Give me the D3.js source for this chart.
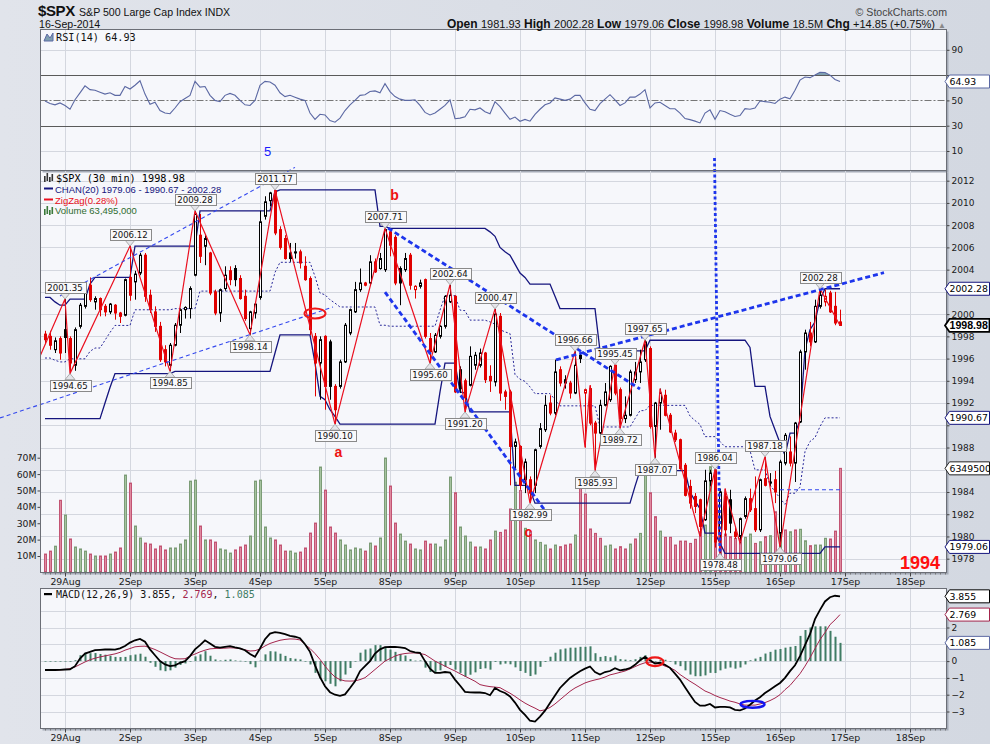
<!DOCTYPE html>
<html><head><meta charset="utf-8">
<script src="https://cdn.jsdelivr.net/npm/d3@7/dist/d3.min.js"></script>
<style>html,body{margin:0;padding:0;background:#dce0e8;}svg{display:block;}</style>
</head><body>
<svg id="chart" width="990" height="744"></svg>
<script>
// ---------------- DATA ----------------
const dayLabels=["29Aug","2Sep","3Sep","4Sep","5Sep","8Sep","9Sep","10Sep","11Sep","12Sep","15Sep","16Sep","17Sep","18Sep"];
const dayIdx=[4,17,30,43,56,69,82,95,108,121,134,147,160,173];
const priceTicks=[1978,1980,1982,1984,1986,1988,1990,1992,1994,1996,1998,2000,2002,2004,2006,2008,2010,2012];
const rsiTicks=[10,30,50,70,90];
const macdTicks=[-3,-2,-1,0,1,2,3];
const volTicks=[10,20,30,40,50,60,70];
const headerStats=[["Open","1981.93"],["High","2002.28"],["Low","1979.06"],["Close","1998.98"],["Volume","18.5M"],["Chg","+14.85 (+0.75%)"]];

const open=[1998.2,1998.0,1996.8,1997.8,1998.6,1997.8,1995.4,1998.9,2000.7,2002.6,
2001.1,2001.4,2000.7,2000.2,2000.8,2000.1,1999.9,2003.3,2002.9,2003.7,
2005.3,2001.7,2000.2,1998.9,1996.8,1995.4,1997.2,1999.0,2000.4,2000.5,
2003.5,2007.1,2006.1,2005.5,2002.0,2000.1,2002.3,2003.9,2004.1,2003.2,
2001.6,1998.7,2000.1,2001.5,2008.8,2010.2,2011.1,2007.6,2006.8,2005.5,
2005.5,2005.6,2004.3,2003.2,1998.0,1995.6,1998.0,1997.5,1993.5,1993.5,
1995.7,1998.3,2000.2,2002.2,2002.8,2002.8,2004.7,2004.1,2004.0,2007.4,
2006.9,2004.1,2004.0,2005.3,2002.2,2002.5,2003.1,1997.8,1996.6,1998.0,
1998.9,2001.1,2001.6,1995.0,1994.0,1993.6,1995.4,1995.4,1996.5,1994.4,
1993.9,1999.8,1993.0,1993.0,1988.1,1988.1,1985.1,1985.1,1984.6,1988.1,
1989.6,1992.0,1991.1,1995.0,1994.1,1993.8,1992.9,1996.3,1992.9,1993.3,
1990.2,1989.3,1991.8,1992.3,1995.4,1993.2,1990.6,1990.9,1994.1,1994.8,
1995.9,1996.9,1989.9,1992.0,1992.7,1990.9,1989.3,1988.7,1986.4,1984.5,
1983.6,1983.3,1981.5,1985.0,1985.9,1980.3,1983.6,1983.3,1980.4,1980.0,
1981.8,1983.4,1982.5,1980.6,1985.2,1984.9,1985.1,1980.3,1986.6,1987.6,
1986.6,1990.3,1996.6,1998.3,1997.5,2000.7,2001.1,2001.9,2000.7,1999.3];
const high=[1998.5,1998.5,1997.9,1998.0,2001.35,1998.0,1998.8,2001.0,2002.7,2003.3,
2001.6,2001.5,2000.9,2001.0,2000.9,2000.2,2003.2,2006.12,2003.9,2005.5,
2005.5,2002.2,2000.7,1999.3,1997.2,1997.4,1999.2,2000.5,2000.7,2002.5,
2009.28,2009.0,2007.1,2005.6,2002.2,2002.3,2004.3,2004.3,2004.4,2003.5,
2002.2,2000.3,2001.1,2009.3,2010.6,2011.0,2011.17,2007.9,2007.1,2006.4,
2006.4,2005.8,2005.2,2003.4,1998.3,1998.0,1998.1,1997.7,1993.7,1995.9,
1999.2,2000.5,2002.9,2004.1,2002.9,2005.3,2005.0,2005.5,2007.71,2007.6,
2007.1,2004.3,2005.5,2005.5,2002.6,2003.1,2003.2,1998.3,1998.3,1999.0,
2001.7,2002.64,2001.7,1995.3,1994.2,1997.1,1996.6,1996.9,1996.6,1995.4,
2000.47,2000.1,1993.2,1993.2,1988.8,1988.2,1987.0,1985.4,1987.9,1990.2,
1992.7,1992.7,1995.9,1995.3,1994.5,1994.0,1996.66,1996.5,1993.3,1993.6,
1990.4,1992.3,1993.8,1995.4,1995.45,1993.4,1992.6,1995.0,1995.7,1996.8,
1997.65,1997.1,1992.1,1993.3,1993.2,1991.1,1989.6,1988.8,1986.6,1985.1,
1983.9,1983.4,1986.0,1986.0,1986.04,1984.3,1984.3,1984.2,1980.9,1981.7,
1983.6,1984.3,1985.4,1985.2,1987.18,1985.7,1985.9,1986.9,1989.3,1989.0,
1990.3,1996.8,1998.6,1999.3,2001.3,2002.28,2002.2,2002.1,2002.0,2000.4];
const low=[1997.3,1996.8,1996.5,1995.9,1996.5,1994.65,1994.9,1998.7,2000.5,2001.1,
2000.4,1999.8,1999.8,2000.0,1999.5,1999.2,1999.8,2001.2,2001.3,2003.5,
2001.1,2000.1,1998.4,1995.7,1995.3,1994.85,1997.1,1998.3,1999.6,1999.6,
2003.4,2004.6,2004.4,2001.7,1999.9,1999.3,2002.1,2002.6,2002.5,2001.3,
1999.4,1998.14,1999.6,2001.3,2008.5,2009.7,2007.1,2005.8,2004.9,2004.7,
2005.0,2004.1,2003.0,1998.1,1992.6,1992.3,1991.4,1992.3,1990.10,1993.3,
1995.6,1998.1,2000.1,2002.0,2002.5,2002.6,2003.7,2004.0,2003.8,2005.2,
2002.6,2000.8,2003.8,2002.2,2001.4,2002.3,1997.8,1995.60,1996.5,1997.8,
1998.7,2001.0,1992.9,1992.9,1991.20,1993.5,1995.0,1995.2,1993.8,1993.0,
1993.5,1992.2,1991.4,1984.6,1986.0,1984.2,1983.9,1982.99,1983.9,1987.9,
1989.4,1990.9,1990.9,1993.5,1993.3,1992.4,1992.8,1995.6,1988.0,1990.0,
1985.93,1989.1,1991.7,1992.1,1992.7,1989.72,1990.2,1990.8,1993.8,1993.8,
1995.7,1989.7,1987.07,1989.6,1990.8,1989.3,1988.5,1986.0,1983.6,1982.5,
1982.1,1980.0,1981.4,1984.5,1979.0,1978.48,1980.0,1980.3,1979.8,1979.4,
1981.6,1982.2,1980.4,1980.4,1984.5,1984.5,1983.0,1979.06,1986.4,1986.3,
1984.9,1990.2,1995.0,1997.1,1997.4,2000.5,2000.7,2000.1,1999.0,1998.98];
const close=[1997.7,1997.2,1997.6,1996.5,1997.9,1995.6,1998.6,2000.8,2002.6,2001.3,
2001.4,2000.4,2000.2,2000.9,2000.1,1999.8,2003.1,2001.7,2003.6,2005.3,
2001.6,2000.4,1998.9,1995.9,1995.7,1997.2,1999.0,2000.4,2000.6,2002.3,
2009.0,2005.2,2006.8,2001.9,2000.1,2002.2,2003.5,2003.1,2003.1,2001.4,
1999.6,2000.2,2000.9,2008.3,2010.1,2010.9,2007.3,2006.0,2005.0,2005.0,
2005.6,2004.6,2003.1,1998.6,1995.6,1997.7,1993.5,1993.5,1991.4,1995.7,
1999.0,2000.4,2002.2,2002.8,2002.6,2004.7,2003.8,2005.0,2007.6,2006.2,
2002.8,2002.8,2005.0,2002.6,2002.5,2002.8,1998.0,1996.6,1998.1,1998.9,
2001.6,2001.7,1993.0,1993.3,1992.5,1996.2,1996.3,1996.5,1994.1,1994.0,
2000.0,1992.9,1992.6,1988.1,1988.5,1984.6,1986.7,1983.9,1987.8,1989.7,
1991.8,1991.1,1994.8,1993.8,1993.8,1992.9,1995.4,1996.0,1993.2,1990.2,
1989.3,1991.8,1993.0,1995.3,1992.9,1990.6,1990.9,1994.8,1994.8,1995.7,
1997.5,1989.9,1992.0,1992.9,1990.9,1989.4,1988.7,1986.1,1983.7,1983.0,
1982.7,1980.9,1985.0,1985.7,1979.5,1984.0,1980.6,1981.2,1980.0,1981.6,
1983.4,1982.4,1980.6,1985.1,1984.6,1984.8,1984.0,1986.7,1989.1,1986.6,
1990.2,1996.6,1998.3,1997.5,2000.7,2001.7,2001.6,2000.2,1999.2,1998.98];
// volume in millions, and bar colour (1 = green, 0 = red)
const volume=[11.2,13,16,44,35,20.4,15.5,14.3,13,11.2,
10,10,10,11.2,12.4,14.9,59.4,54.5,28.3,21,
17.9,17.3,14.3,16.1,13.7,14.9,14.9,17.3,19.8,55.7,
56.3,28.3,19.8,19.8,18.5,14.3,13.7,11.8,13.7,15.5,
16.7,22.2,55.7,56.3,27.7,21,19.8,16.7,13,13,
11.8,12.4,14.9,24,30.1,64.3,50.2,27.7,24,19.8,
16.7,13.7,14.9,14.3,13,17.9,16.1,21,69.8,52.7,
30.1,23.4,19.1,17.3,14.3,13.7,19.1,17.3,17.3,15.5,
19.8,58.2,48.6,27.7,22.2,18.5,15.5,15.5,14.3,19.8,
25.2,24.4,25.9,38.7,55,50,26.9,24.8,19.8,18.3,
16.7,14.3,16.7,15.7,16.7,17.3,22.8,52.3,47.8,26.5,
23.8,20.8,16.1,16.7,14.3,15.7,14.3,17.3,20.4,23.8,
60.4,48.6,34,25.2,21.4,21.4,16.7,19.1,19.1,17.7,
20.2,24.8,28.9,64.5,62.8,46.2,23.4,21.8,20.8,20.8,
21.4,23.4,17.7,18.7,21.8,22.4,37,43.1,25.9,24.8,
25.9,26.3,19.3,16.3,16.7,16.7,20.8,20.4,25.2,63.495];
const volUp=[0,0,1,0,1,0,1,1,1,0, 1,0,0,1,0,0,1,0,1,1, 0,0,0,0,0,1,1,1,1,1, 1,0,1,0,0,1,1,1,0,0,
0,1,1,1,1,1,0,0,0,1, 1,0,0,0,0,1,0,0,0,1, 1,1,1,1,0,1,0,1,1,0, 0,1,1,0,1,1,0,0,1,1,
1,1,0,1,1,1,0,1,0,0, 1,0,0,0,1,0,1,0,1,1, 1,0,1,0,0,0,1,0,0,0, 0,0,1,1,0,0,0,1,0,1,
1,0,0,1,0,0,0,0,0,0, 0,0,1,1,0,0,0,0,0,0, 1,1,0,1,0,1,0,1,0,1, 0,1,1,0,1,1,1,0,0,0];
const chanUpper=[2001.5,2001.5,2001.1,2000.8,2000.8,2001.35,2001.35,2001.35,2001.35,2002.7,
2003.3,2003.3,2003.3,2003.3,2003.3,2003.3,2003.3,2003.3,2006.12,2006.12,
2006.12,2006.12,2006.12,2006.12,2006.12,2006.12,2006.12,2006.12,2006.12,2006.12,
2006.12,2009.28,2009.28,2009.28,2009.28,2009.28,2009.28,2009.28,2009.28,2009.28,
2009.28,2009.28,2009.28,2009.28,2009.28,2009.28,2011.0,2011.17,2011.17,2011.17,
2011.17,2011.17,2011.17,2011.17,2011.17,2011.17,2011.17,2011.17,2011.17,2011.17,
2011.17,2011.17,2011.17,2011.17,2011.17,2011.17,2011.17,2007.9,2007.9,2007.71,
2007.71,2007.71,2007.71,2007.71,2007.71,2007.71,2007.71,2007.71,2007.71,2007.71,
2007.71,2007.71,2007.71,2007.71,2007.71,2007.71,2007.71,2007.71,2007.71,2007.4,
2007.0,2006.0,2005.6,2005.3,2004.5,2003.7,2003.3,2002.7,2002.7,2002.7,
2002.7,2002.7,2001.6,2000.5,2000.5,2000.5,2000.5,2000.5,2000.5,2000.5,
2000.5,1996.7,1996.7,1996.7,1996.7,1996.7,1996.7,1996.7,1996.7,1996.7,
1996.7,1997.65,1997.65,1997.65,1997.65,1997.65,1997.65,1997.65,1997.65,1997.65,
1997.65,1997.65,1997.65,1997.65,1997.65,1997.65,1997.65,1997.65,1997.65,1997.65,
1997.65,1997.0,1993.5,1993.5,1993.5,1990.8,1989.6,1988.4,1987.3,1989.3,
1989.3,1990.4,1996.8,1998.6,1999.3,2001.3,2002.28,2002.28,2002.28,2002.28];
const chanLower=[1990.6,1990.6,1990.6,1990.6,1990.6,1990.6,1990.6,1990.6,1990.6,1990.6,
1990.6,1990.6,1992.0,1993.4,1994.65,1994.65,1994.65,1994.65,1994.65,1994.65,
1994.65,1994.65,1994.65,1994.65,1994.65,1994.65,1994.85,1994.85,1994.85,1994.85,
1994.85,1994.85,1994.85,1994.85,1994.85,1994.85,1994.85,1994.85,1994.85,1994.85,
1994.85,1994.85,1994.85,1994.85,1994.85,1994.85,1996.5,1998.14,1998.14,1998.14,
1998.14,1998.14,1998.14,1998.14,1995.6,1992.6,1992.3,1991.4,1990.8,1990.1,
1990.1,1990.1,1990.1,1990.1,1990.1,1990.1,1990.1,1990.1,1990.1,1990.1,
1990.1,1990.1,1990.1,1990.1,1990.1,1990.1,1990.1,1990.1,1990.1,1993.0,
1995.6,1995.6,1995.6,1993.0,1992.9,1991.2,1991.2,1991.2,1991.2,1991.2,
1991.2,1991.2,1991.2,1991.2,1984.6,1984.6,1984.6,1984.2,1982.99,1982.99,
1982.99,1982.99,1982.99,1982.99,1982.99,1982.99,1982.99,1982.99,1982.99,1982.99,
1982.99,1982.99,1982.99,1982.99,1982.99,1982.99,1982.99,1982.99,1984.5,1985.93,
1985.93,1985.93,1985.93,1985.93,1985.93,1985.93,1985.93,1985.93,1985.93,1984.0,
1983.2,1982.5,1980.3,1980.3,1980.3,1979.4,1978.48,1978.48,1978.48,1978.48,
1978.48,1978.48,1978.48,1978.48,1978.48,1978.48,1978.48,1978.48,1978.48,1978.48,
1978.48,1978.48,1978.48,1978.48,1978.48,1978.48,1979.06,1979.06,1979.06,1979.06];
const chanMid=[1996.05,1996.05,1995.85,1995.7,1995.7,1995.98,1995.98,1995.98,1995.98,1996.65,
1996.95,1996.95,1997.65,1998.35,1998.98,1998.98,1998.98,1998.98,2000.39,2000.39,
2000.39,2000.39,2000.39,2000.39,2000.39,2000.39,2000.49,2000.49,2000.49,2000.49,
2000.49,2002.07,2002.07,2002.07,2002.07,2002.07,2002.07,2002.07,2002.07,2002.07,
2002.07,2002.07,2002.07,2002.07,2002.07,2002.07,2003.75,2004.66,2004.66,2004.66,
2004.66,2004.66,2004.66,2004.66,2003.39,2001.89,2001.74,2001.29,2000.99,2000.64,
2000.64,2000.64,2000.64,2000.64,2000.64,2000.64,2000.64,1999.0,1999.0,1998.91,
1998.91,1998.91,1998.91,1998.91,1998.91,1998.91,1998.91,1998.91,1998.91,2000.36,
2001.66,2001.66,2001.66,2000.36,2000.31,1999.46,1999.46,1999.46,1999.46,1999.3,
1999.1,1998.6,1998.4,1998.25,1994.55,1994.15,1993.95,1993.45,1992.85,1992.85,
1992.85,1992.85,1992.3,1991.75,1991.75,1991.75,1991.75,1991.75,1991.75,1991.75,
1991.75,1989.85,1989.85,1989.85,1989.85,1989.85,1989.85,1989.85,1990.6,1991.32,
1991.32,1991.79,1991.79,1991.79,1991.79,1991.79,1991.79,1991.79,1991.79,1990.83,
1990.43,1990.08,1988.98,1988.98,1988.98,1988.53,1988.07,1988.07,1988.07,1988.07,
1988.07,1987.74,1985.99,1985.99,1985.99,1984.64,1984.04,1983.44,1982.89,1983.89,
1983.89,1984.44,1987.64,1988.54,1988.89,1989.89,1990.67,1990.67,1990.67,1990.67];
const zzIdx=[-1,4,5,17,25,30,41,46,58,68,77,81,84,90,97,106,108,109,110,114,115,120,122,123,131,134,135,136,139,144,147,155,159];
const zzVal=[1996.2,2001.35,1994.65,2006.12,1994.85,2009.28,1998.14,2011.17,1990.10,2007.71,1995.60,2002.64,1991.20,2000.47,1982.99,1996.66,1988.0,1993.6,1985.93,1995.45,1989.72,1997.65,1987.07,1993.3,1980.0,1986.04,1978.48,1984.3,1979.4,1987.18,1979.06,2002.28,1998.98];
const zzShow=[0,1,1,1,1,1,1,1,1,1,1,1,1,1,1,1,0,0,1,1,1,1,1,0,0,1,1,0,0,1,1,1,0];
const rsi=[49.5,47.5,46.5,48,46,43,50.5,56,61.5,58.5,
58,56.5,55,56,54,54,61,59,62,65.5,
55,47,48.5,42,40,39.5,44,49,51.5,54,
65,60.5,61,54,50,49,54,55.5,54,50,
46.5,46,50,62,65,64.5,62,56,53,54,
52.5,51,50,40,35,39,38.5,34,32.8,36,
42,46.5,50,54,54.5,57,57.5,56,63.2,57,
53,51,50,50,50.5,46,40.5,38.5,40,43,
46,50.5,35.5,36,37,43,42.5,44,41,39.5,
49,45,40,35,36.8,33.5,35,33.6,39,43,
46.5,48,52,51,50,51,54,54,48,43,
42,47.4,51,54.5,50.5,46,48,52.6,52.6,55,
58.5,44,48,48.5,46,43.4,43.4,40,35.6,34.8,
33.6,32.2,40,42.5,35,42,41,39,37.3,38,
43.5,43,44,49.5,49,48.5,47.6,51,52.6,51.3,
58,66,68.5,68,70,72.3,72,70,66.5,64.93];
const macd=[-0.53,-0.53,-0.53,-0.52,-0.5,-0.49,-0.3,0.15,0.45,0.55,
0.65,0.67,0.69,0.69,0.68,0.76,0.9,1.1,1.24,1.32,
1.15,0.7,0.35,0.0,-0.2,-0.3,-0.25,-0.1,0.0,0.3,
0.7,0.95,1.24,1.05,0.85,0.8,0.85,0.89,0.82,0.76,
0.65,0.42,0.25,0.75,1.3,1.64,1.72,1.68,1.6,1.5,
1.45,1.36,1.0,0.55,-0.25,-0.95,-1.5,-1.85,-2.0,-2.07,
-1.98,-1.6,-1.2,-0.6,-0.3,0.0,0.45,0.7,0.83,0.84,
0.85,0.82,0.78,0.6,0.52,0.49,0.0,-0.45,-0.7,-0.7,
-0.65,-0.68,-1.1,-1.45,-1.83,-1.86,-1.87,-1.87,-1.9,-2.03,
-1.6,-1.78,-1.9,-2.1,-2.47,-2.9,-3.2,-3.55,-3.6,-3.3,
-2.95,-2.5,-2.05,-1.6,-1.3,-1.0,-0.8,-0.6,-0.45,-0.32,
-0.65,-0.8,-0.65,-0.59,-0.42,-0.55,-0.5,-0.42,-0.22,0.05,
0.25,0.05,-0.14,-0.1,-0.22,-0.4,-0.75,-1.1,-1.55,-2.0,
-2.43,-2.65,-2.65,-2.55,-2.76,-2.72,-2.72,-2.76,-2.9,-2.93,
-2.82,-2.6,-2.35,-2.15,-1.9,-1.7,-1.5,-1.3,-1.0,-0.6,
-0.25,0.3,0.95,1.6,2.5,3.05,3.55,3.8,3.89,3.855];
const signal=[-0.53,-0.53,-0.53,-0.52,-0.5,-0.45,-0.35,-0.2,-0.05,0.08,
0.17,0.25,0.31,0.37,0.43,0.52,0.65,0.75,0.85,0.88,
0.89,0.8,0.69,0.55,0.4,0.25,0.14,0.13,0.14,0.3,
0.42,0.55,0.65,0.73,0.75,0.76,0.77,0.79,0.78,0.74,
0.67,0.6,0.62,0.72,0.9,1.05,1.15,1.24,1.29,1.32,
1.31,1.26,1.0,0.75,0.45,0.1,-0.3,-0.65,-0.95,-1.1,
-1.18,-1.19,-1.18,-1.1,-0.99,-0.75,-0.5,-0.25,0.0,0.15,
0.3,0.4,0.45,0.48,0.49,0.45,0.39,0.2,0.0,-0.15,
-0.3,-0.45,-0.59,-0.75,-0.9,-1.05,-1.2,-1.4,-1.47,-1.52,
-1.55,-1.58,-1.75,-1.91,-2.1,-2.31,-2.5,-2.66,-2.8,-2.96,
-2.9,-2.76,-2.55,-2.3,-2.05,-1.8,-1.6,-1.45,-1.3,-1.2,
-1.12,-1.05,-0.95,-0.82,-0.75,-0.67,-0.59,-0.47,-0.33,-0.2,
-0.1,-0.06,-0.1,-0.16,-0.3,-0.39,-0.55,-0.8,-1.0,-1.2,
-1.38,-1.58,-1.78,-1.9,-2.05,-2.17,-2.27,-2.38,-2.45,-2.55,
-2.62,-2.62,-2.62,-2.55,-2.47,-2.35,-2.2,-2.0,-1.7,-1.45,
-1.1,-0.75,-0.3,0.2,0.75,1.28,1.7,2.17,2.45,2.769];
const hist=[0,0,0,0,0,-0.04,0.05,0.35,0.5,0.47,
0.48,0.42,0.38,0.32,0.25,0.24,0.25,0.35,0.39,0.44,
0.26,-0.1,-0.34,-0.55,-0.6,-0.55,-0.39,-0.23,-0.14,0.0,
0.28,0.4,0.59,0.32,0.1,0.04,0.08,0.1,0.04,0.02,
-0.02,-0.18,-0.37,0.03,0.4,0.59,0.57,0.44,0.31,0.18,
0.14,0.1,0.0,-0.2,-0.7,-1.05,-1.2,-1.35,-1.5,-1.2,
-0.8,-0.41,-0.02,0.5,0.69,0.75,0.95,0.95,0.83,0.69,
0.55,0.42,0.33,0.12,0.03,0.04,-0.39,-0.65,-0.7,-0.55,
-0.35,-0.23,-0.51,-0.7,-0.93,-0.81,-0.67,-0.47,-0.43,-0.51,
-0.05,-0.2,-0.15,-0.19,-0.37,-0.59,-0.7,-0.89,-0.8,-0.34,
-0.05,0.26,0.5,0.7,0.75,0.8,0.8,0.85,0.85,0.88,
0.47,0.25,0.3,0.23,0.33,0.12,0.09,0.05,0.11,0.25,
0.35,0.11,-0.04,0.06,0.08,-0.01,-0.2,-0.3,-0.55,-0.8,
-0.9,-0.9,-0.85,-0.7,-0.71,-0.55,-0.45,-0.38,-0.45,-0.38,
-0.2,0.05,0.15,0.25,0.45,0.55,0.68,0.72,0.8,0.85,
0.9,1.5,1.85,2.0,2.07,2.07,2.07,1.8,1.45,1.085];
// hand-drawn annotations, in (bar index, price) units
const trendThin=[[[-9,1990.66],[57.6,2000.64]],[[3,2001.63],[50,2013.2]],[[147,1984.2],[159.6,1984.2]]];
const trendThick=[[[68.6,2007.74],[119,1993.26]],[[68,2001.98],[100.8,1981.84]],[[102.2,1995.88],[167.8,2003.73]]];
const vertLine=[[133.9,2014.04],[135,1978.33]];
const waveLabels=[{t:"a",i:58.7,p:1987.63},{t:"b",i:69.9,p:2010.7},{t:"c",i:96.7,p:1980.4}];

// ---------------- LAYOUT ----------------
const svg=d3.select('#chart');
const L=40.5,R=946.5,RT=29.5,RB=170.5,MT=170.5,MB=572.5,DT=588.5,DB=728.5;
const FONT='DejaVu Sans, Verdana, sans-serif', NAR='Liberation Sans, Arial, sans-serif', MONO='DejaVu Sans Mono, monospace';
const x=d3.scaleLinear().domain([0,159]).range([45,840]);
const yP=d3.scaleLinear().domain([1978,2012]).range([558.7,180.7]);
const yV=d3.scaleLinear().domain([0,70]).range([572.4,457.7]);
const yR=d3.scaleLinear().domain([10,90]).range([151,49.8]);
const yM=d3.scaleLinear().domain([-3,2]).range([711.5,627.5]);
const px=i=>Math.round(x(i))+0.5;

const bgGrad=svg.append('defs').append('linearGradient').attr('id','bg').attr('x1',0).attr('x2',1).attr('y1',0).attr('y2',0);
bgGrad.append('stop').attr('offset',0).attr('stop-color','#e1e4eb');
bgGrad.append('stop').attr('offset',1).attr('stop-color','#d3d8e1');
svg.append('rect').attr('width',990).attr('height',744).attr('fill','url(#bg)');
const defs=svg.append('defs');
function clip(id,t,b){defs.append('clipPath').attr('id',id).append('rect').attr('x',L).attr('y',t).attr('width',R-L).attr('height',b-t);}
clip('cR',RT,RB);clip('cM',MT,MB);clip('cD',DT,DB);
function panelBg(t,b){
  svg.append('rect').attr('x',L+2).attr('y',t+2).attr('width',R-L).attr('height',b-t).attr('fill','#a4aab6');
  svg.append('rect').attr('x',L).attr('y',t).attr('width',R-L).attr('height',b-t).attr('fill','#f6f7fb');
}
panelBg(DT,DB);panelBg(MT,MB);panelBg(RT,RB);

function vgrid(t,b){svg.append('g').selectAll('line').data(dayIdx).join('line')
  .attr('x1',d=>px(d)).attr('x2',d=>px(d)).attr('y1',t).attr('y2',b).attr('stroke','#d4d7df');}
function hgrid(vals,sc,col){svg.append('g').selectAll('line').data(vals).join('line')
  .attr('x1',L).attr('x2',R).attr('y1',d=>Math.round(sc(d))+0.5).attr('y2',d=>Math.round(sc(d))+0.5).attr('stroke',col||'#d4d7df');}
vgrid(RT,RB);vgrid(MT,MB);vgrid(DT,DB);
hgrid([10,90],yR);hgrid(priceTicks,yP);hgrid(macdTicks,yM);

// value tags positions (label of last value on right edge)
const tagsR=[yR(rsi[159])];
const tagsM=[yP(chanUpper[159]),yP(close[159]),yP(chanMid[159]),yV(volume[159]),yP(chanLower[159])];
const tagsD=[yM(macd[159]),yM(signal[159]),yM(hist[159])];
function styleAxis(g,size,hideNear){g.select('.domain').remove();
  g.selectAll('text').attr('font-family',FONT).attr('font-size',size||9).attr('fill','#1a1a1a');
  g.selectAll('line').attr('stroke','#444');
  if(hideNear) g.selectAll('.tick').each(function(){
    const m=/translate\(([-\d.]+),([-\d.]+)\)/.exec(d3.select(this).attr('transform'));
    const ty=+m[2]; if(hideNear.some(t=>Math.abs(t-ty)<8.5)) d3.select(this).select('text').remove();});
}

// ---------------- RSI PANEL ----------------
const gR=svg.append('g').attr('clip-path','url(#cR)');
gR.append('line').attr('x1',L).attr('x2',R).attr('y1',Math.round(yR(70))+0.5).attr('y2',Math.round(yR(70))+0.5).attr('stroke','#5a5a5a');
gR.append('line').attr('x1',L).attr('x2',R).attr('y1',Math.round(yR(30))+0.5).attr('y2',Math.round(yR(30))+0.5).attr('stroke','#5a5a5a');
gR.append('line').attr('x1',L).attr('x2',R).attr('y1',Math.round(yR(50))+0.5).attr('y2',Math.round(yR(50))+0.5).attr('stroke','#777').attr('stroke-dasharray','7,2,2,2');
gR.append('path').datum(rsi).attr('d',d3.area().x((d,i)=>x(i)).y0(yR(70)).y1(d=>yR(Math.max(d,70)))).attr('fill','#7f9fb0');
gR.append('path').datum(rsi).attr('d',d3.line().x((d,i)=>x(i)).y(d=>yR(d))).attr('fill','none').attr('stroke','#5b68a3').attr('stroke-width',1.1);
const axR=svg.append('g').attr('transform',`translate(${R},0)`).call(d3.axisRight(yR).tickValues(rsiTicks).tickSize(3).tickPadding(2));
styleAxis(axR,9,tagsR);
svg.append('text').attr('x',x(44.5)).attr('y',yR(9.7)).attr('dy','0.35em').attr('text-anchor','middle')
  .attr('font-family',NAR).attr('font-size',13).attr('fill','#1a1aff').text('5');

// ---------------- MAIN PANEL ----------------
const gM=svg.append('g').attr('clip-path','url(#cM)');
gM.append('g').selectAll('rect').data(volume).join('rect')
  .attr('x',(d,i)=>px(i)-1).attr('width',2).attr('y',d=>yV(d)).attr('height',d=>yV(0)-yV(d))
  .attr('fill',(d,i)=>volUp[i]?'#a6c3a0':'#df8aa0').attr('stroke',(d,i)=>volUp[i]?'#7c9c76':'#c25473').attr('stroke-width',1);
const lineP=d3.line().x((d,i)=>x(i)).y(d=>yP(d));
gM.append('path').datum(chanUpper).attr('d',lineP).attr('fill','none').attr('stroke','#15157e').attr('stroke-width',1.3);
gM.append('path').datum(chanLower).attr('d',lineP).attr('fill','none').attr('stroke','#15157e').attr('stroke-width',1.3);
gM.append('path').datum(chanMid).attr('d',lineP).attr('fill','none').attr('stroke','#2a2a9a').attr('stroke-width',1).attr('stroke-dasharray','2,2');
const gC=gM.append('g');
open.forEach((o,i)=>{
  const c=close[i], pc=i>0?close[i-1]:o;
  const col=c>=pc?'#000':'#e00000';
  const hollow=c>o;
  const cx=px(i);
  gC.append('line').attr('x1',cx).attr('x2',cx).attr('y1',yP(high[i])).attr('y2',yP(low[i])).attr('stroke',col);
  const y1=yP(Math.max(o,c)), y2=yP(Math.min(o,c));
  gC.append('rect').attr('x',cx-1).attr('y',y1).attr('width',2).attr('height',Math.max(0.5,y2-y1))
    .attr('fill',hollow?'#fff':col).attr('stroke',col).attr('stroke-width',1);
});
const zz=zzIdx.map((d,k)=>[d,zzVal[k]]);
gM.append('path').datum(zz).attr('d',d3.line().x(d=>x(d[0])).y(d=>yP(d[1]))).attr('fill','none').attr('stroke','#ea1020').attr('stroke-width',1.2);
const lineA=d3.line().x(d=>x(d[0])).y(d=>yP(d[1]));
const gA=svg.append('g');
trendThin.forEach(s=>gA.append('path').datum(s).attr('d',lineA).attr('stroke','#3348ee').attr('stroke-width',1.1).attr('stroke-dasharray','4,3').attr('fill','none'));
trendThick.forEach(s=>gA.append('path').datum(s).attr('d',lineA).attr('stroke','#1d35ec').attr('stroke-width',2.8).attr('stroke-dasharray','5,3').attr('fill','none'));
gA.append('path').datum(vertLine).attr('d',lineA).attr('stroke','#1d35ec').attr('stroke-width',2.8).attr('stroke-dasharray','3,2.5').attr('fill','none');
gA.append('ellipse').attr('cx',x(54)).attr('cy',yP(2000.06)).attr('rx',10.5).attr('ry',5).attr('fill','none').attr('stroke','#ee1818').attr('stroke-width',2);
waveLabels.forEach(w=>gA.append('text').attr('x',x(w.i)).attr('y',yP(w.p)).attr('dy','0.35em').attr('text-anchor','middle')
  .attr('font-family',NAR).attr('font-weight','bold').attr('font-size',14).attr('fill','#ee1111').text(w.t));
gA.append('text').attr('x',940).attr('y',569).attr('text-anchor','end').attr('font-family',NAR).attr('font-weight','bold')
  .attr('font-size',18).attr('fill','#ff1010').text('1994');
const gL=svg.append('g');
const f2=d3.format('.2f');
zz.forEach((d,k)=>{
  if(!zzShow[k])return;
  const X=x(d[0]), Y=yP(d[1]);
  const isHigh=k===0||d[1]>zz[k-1][1];
  const t=gL.append('text').attr('font-family',FONT).attr('font-size',8.6).attr('fill','#111').attr('text-anchor','middle').text(f2(d[1]));
  const w=t.node().getComputedTextLength()+5, h=11;
  const top=isHigh?Y-6-h:Y+6;
  const tri=isHigh?`M${X-5},${top+h} L${X+5},${top+h} L${X},${Y} Z`:`M${X-5},${top} L${X+5},${top} L${X},${Y} Z`;
  gL.insert('path','text').attr('d',tri).attr('fill','#e4e5ea').attr('stroke','#9a9a9a').attr('stroke-width',0.8);
  gL.insert('rect','text').attr('x',Math.round(X-w/2)+0.5).attr('y',Math.round(top)+0.5).attr('width',Math.round(w)).attr('height',h).attr('fill','#f9f9fb').attr('stroke','#8a8a8a');
  t.attr('x',X).attr('y',Math.round(top)+h-2);
});
const axP=svg.append('g').attr('transform',`translate(${R},0)`).call(d3.axisRight(yP).tickValues(priceTicks).tickSize(3).tickPadding(2).tickFormat(d3.format('d')));
styleAxis(axP,9,tagsM);
const axV=svg.append('g').attr('transform',`translate(${L},0)`).call(d3.axisLeft(yV).tickValues(volTicks).tickSize(3).tickPadding(1).tickFormat(d=>d+'M'));
styleAxis(axV,9.3);
const barIdx=d3.range(-1,186);
function dateAxis(y){
  const m=svg.append('g').attr('transform',`translate(0,${y})`).call(d3.axisBottom(x).tickValues(barIdx.filter(i=>x(i)<R&&x(i)>L)).tickSize(2).tickFormat(''));
  m.select('.domain').remove(); m.selectAll('line').attr('stroke','#777');
  const a=svg.append('g').attr('transform',`translate(0,${y})`).call(d3.axisBottom(x).tickValues(dayIdx).tickSize(4).tickPadding(2).tickFormat((d,i)=>dayLabels[i]));
  styleAxis(a,9.4);
}
dateAxis(MB);dateAxis(DB);

// ---------------- MACD PANEL ----------------
const gD=svg.append('g').attr('clip-path','url(#cD)');
gD.append('g').selectAll('rect').data(hist).join('rect')
  .attr('x',(d,i)=>px(i)-1).attr('width',2).attr('y',d=>Math.min(yM(0),yM(d))).attr('height',d=>Math.max(0.6,Math.abs(yM(d)-yM(0))))
  .attr('fill','#3f7c64');
gD.append('path').datum(signal).attr('d',d3.line().x((d,i)=>x(i)).y(d=>yM(d))).attr('fill','none').attr('stroke','#a3254c').attr('stroke-width',1);
gD.append('path').datum(macd).attr('d',d3.line().x((d,i)=>x(i)).y(d=>yM(d))).attr('fill','none').attr('stroke','#000').attr('stroke-width',1.8);
gD.append('ellipse').attr('cx',x(122)).attr('cy',yM(-0.04)).attr('rx',8.5).attr('ry',4.3).attr('fill','none').attr('stroke','#ee1818').attr('stroke-width',2.2);
gD.append('ellipse').attr('cx',x(141.5)).attr('cy',yM(-2.57)).attr('rx',12).attr('ry',3.4).attr('fill','none').attr('stroke','#1414ee').attr('stroke-width',2.4);
const axD=svg.append('g').attr('transform',`translate(${R},0)`).call(d3.axisRight(yM).tickValues(macdTicks).tickSize(3).tickPadding(2).tickFormat(d3.format('d')));
styleAxis(axD,9,tagsD);

[[RT,RB],[MT,MB],[DT,DB]].forEach(([t,b])=>svg.append('rect').attr('x',L).attr('y',t).attr('width',R-L).attr('height',b-t).attr('fill','none').attr('stroke','#6b6e76'));

// ---------------- VALUE TAGS ----------------
function tag(yv,txt,col,bold){
  const g=svg.append('g'), h=13, x0=R-1.5, x1=x0+4.5, x2=989.5;
  g.append('path').attr('d',`M${x0},${yv} L${x1},${yv-h/2} L${x2},${yv-h/2} L${x2},${yv+h/2} L${x1},${yv+h/2} Z`)
    .attr('fill','#fff').attr('stroke',col).attr('stroke-width',bold?1.8:1);
  const t=g.append('text').attr('x',x1).attr('y',yv+3.5).attr('fill','#000').text(txt);
  if(bold) t.attr('font-family',NAR).attr('font-weight','bold').attr('font-size',10.6);
  else t.attr('font-family',FONT).attr('font-size',txt.length>7?8.7:9.3);
}
tag(tagsR[0],'64.93','#5b68a3');
tag(tagsM[0],'2002.28','#15157e');
tag(tagsM[1],'1998.98','#000',true);
tag(tagsM[2],'1990.67','#15157e');
tag(tagsM[3],'6349500','#222');
tag(tagsM[4],'1979.06','#15157e');
tag(tagsD[0],'3.855','#000');
tag(tagsD[1],'2.769','#a3254c');
tag(tagsD[2],'1.085','#5b68a3');

// ---------------- LEGENDS ----------------
function icon(xx,yy,col){const g=svg.append('g');
  [[0,3,6],[2.5,0,8],[5,4,5],[7.5,1,7]].forEach(([dx,dy,hh])=>g.append('rect').attr('x',xx+dx).attr('y',yy+dy).attr('width',1.6).attr('height',hh).attr('fill',col));}
const lg=svg.append('g').attr('font-family',NAR).attr('font-size',9.5);
icon(44,173,'#333'); lg.append('text').attr('x',56).attr('y',181.5).attr('font-family',MONO).attr('font-size',10.2).attr('fill','#000').text('$SPX (30 min) 1998.98');
lg.append('rect').attr('x',44).attr('y',187.5).attr('width',9).attr('height',2).attr('fill','#15157e');
lg.append('text').attr('x',55).attr('y',192.5).attr('fill','#15157e').text('CHAN(20) 1979.06 - 1990.67 - 2002.28');
lg.append('rect').attr('x',44).attr('y',198.5).attr('width',9).attr('height',2).attr('fill','#ea1020');
lg.append('text').attr('x',55).attr('y',203.5).attr('fill','#ea1020').text('ZigZag(0.28%)');
icon(44,206,'#3a7a3a'); lg.append('text').attr('x',55).attr('y',214).attr('fill','#2f6b2f').text('Volume 63,495,000');
svg.append('path').attr('d','M44,41 L47,34 L50,38 L53,33 L53,41 Z').attr('fill','#7f9fb0').attr('stroke','#5b68a3');
lg.append('text').attr('x',56).attr('y',40.5).attr('font-family',MONO).attr('font-size',10.2).attr('fill','#111').text('RSI(14) 64.93');
lg.append('rect').attr('x',44).attr('y',593).attr('width',8).attr('height',2.2).attr('fill','#000');
const mt=lg.append('text').attr('x',56).attr('y',598).attr('font-family',MONO).attr('font-size',10);
mt.append('tspan').attr('fill','#111').text('MACD(12,26,9) 3.855, ');
mt.append('tspan').attr('fill','#a3254c').text('2.769');
mt.append('tspan').attr('fill','#111').text(', ');
mt.append('tspan').attr('fill','#3f7c64').text('1.085');

// ---------------- HEADER ----------------
const hd=svg.append('g').attr('font-family',NAR).attr('fill','#111');
hd.append('text').attr('x',38).attr('y',16).attr('font-size',15).attr('font-weight','bold').attr('letter-spacing',-0.4).text('$SPX');
hd.append('text').attr('x',79).attr('y',16).attr('font-size',10.6).text('S&P 500 Large Cap Index INDX');
hd.append('text').attr('x',39).attr('y',27.5).attr('font-size',10.6).text('16-Sep-2014');
hd.append('text').attr('x',947).attr('y',15.5).attr('text-anchor','end').attr('font-size',10.6).attr('fill','#444').text('\u00A9 StockCharts.com');
const st=hd.append('text').attr('x',935).attr('y',28).attr('text-anchor','end');
headerStats.forEach(([k,v],i)=>{
  st.append('tspan').attr('font-weight','bold').attr('font-size',12).text((i?' ':'')+k+' ');
  st.append('tspan').attr('font-size',11).text(v);
});
hd.append('text').attr('x',938).attr('y',27.5).attr('font-size',8).attr('fill','#888').text('\u25B2');
</script>
</body></html>
